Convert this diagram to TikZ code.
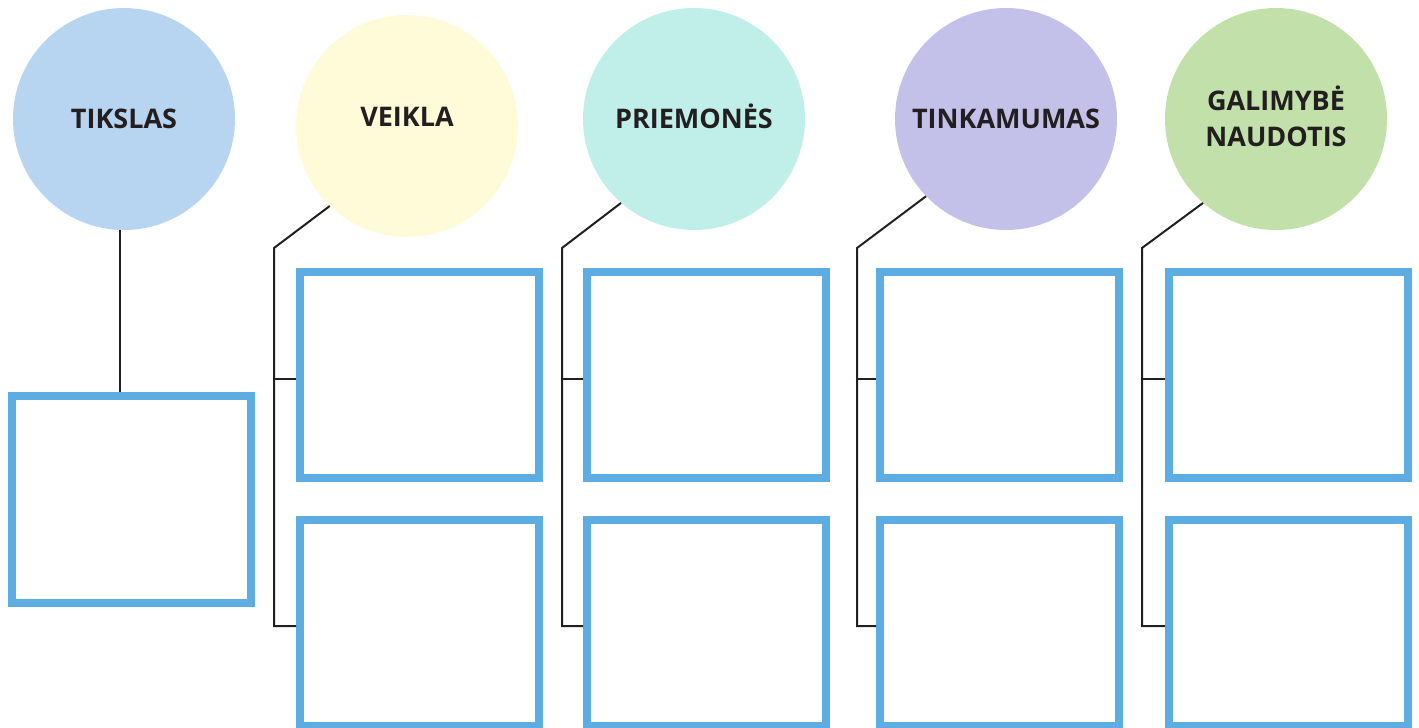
\documentclass[tikz,border=0pt]{standalone}
\usepackage{fontspec}
\setmainfont{Open Sans}
\definecolor{ink}{HTML}{231F20}
\definecolor{boxblue}{HTML}{5DACE2}
\definecolor{goalfill}{HTML}{B7D5F1}
\definecolor{actfill}{HTML}{FFFAD8}
\definecolor{meansfill}{HTML}{C0EEE8}
\definecolor{fitfill}{HTML}{C3C0EA}
\definecolor{usefill}{HTML}{C1E0AA}
\tikzset{
        title/.style={text=ink, font=\bfseries\fontsize{27}{36}\selectfont, align=center, inner sep=0pt},
        bubble/.style={circle, minimum size=222pt, inner sep=0pt, title},
        answer/.style={draw=boxblue, line width=8pt, minimum width=239pt, minimum height=206pt, inner sep=0pt},
        wire/.style={draw=ink, line width=2pt}
          }
\begin{document}
\begin{tikzpicture}[x=1pt, y=-1pt]
        \useasboundingbox (0,0) rectangle (1419,728);
        % circles
        \node[bubble, fill=goalfill] (tikslas) at (124,119) {TIKSLAS};
        \node[bubble, fill=actfill, label={[title, yshift=9pt]center:VEIKLA}] (veikla) at (407,126) {};
        \node[bubble, fill=meansfill] (priemones) at (694,119) {PRIEMON\smash{Ė}S};
        \node[bubble, fill=fitfill] (tinkamumas) at (1006,119) {TINKAMUMAS};
        \node[bubble, fill=usefill] (galimybe) at (1276,119) {GALIMYB\smash{Ė}\\NAUDOTIS};
        % boxes
        \node[answer, minimum height=207pt] (goal) at (131.5,499.5) {};
        \node[answer] (veikla1) at (419.5,375) {};
        \node[answer] (veikla2) at (419.5,623) {};
        \node[answer] (priemones1) at (706.5,375) {};
        \node[answer] (priemones2) at (706.5,623) {};
        \node[answer] (tinkamumas1) at (999.5,375) {};
        \node[answer] (tinkamumas2) at (999.5,623) {};
        \node[answer] (galimybe1) at (1288.5,375) {};
        \node[answer] (galimybe2) at (1288.5,623) {};
        % connectors
        \coordinate (bend1) at (274,248);
        \coordinate (bend2) at (562,248);
        \coordinate (bend3) at (857,248);
        \coordinate (bend4) at (1142,248);
        \draw[wire] ([xshift=-4pt]tikslas.south) -- ([xshift=-4pt]tikslas.south |- goal.north);
        \draw[wire] (veikla.226) -- (bend1) |- ([yshift=-3pt]veikla2.west);
        \draw[wire] ([yshift=-4pt]veikla1.west) -| (bend1);
        \draw[wire] (priemones.229) -- (bend2) |- ([yshift=-3pt]priemones2.west);
        \draw[wire] ([yshift=-4pt]priemones1.west) -| (bend2);
        \draw[wire] (tinkamumas.224) -- (bend3) |- ([yshift=-3pt]tinkamumas2.west);
        \draw[wire] ([yshift=-4pt]tinkamumas1.west) -| (bend3);
        \draw[wire] (galimybe.229) -- (bend4) |- ([yshift=-3pt]galimybe2.west);
        \draw[wire] ([yshift=-4pt]galimybe1.west) -| (bend4);
      \end{tikzpicture}
\end{document}
